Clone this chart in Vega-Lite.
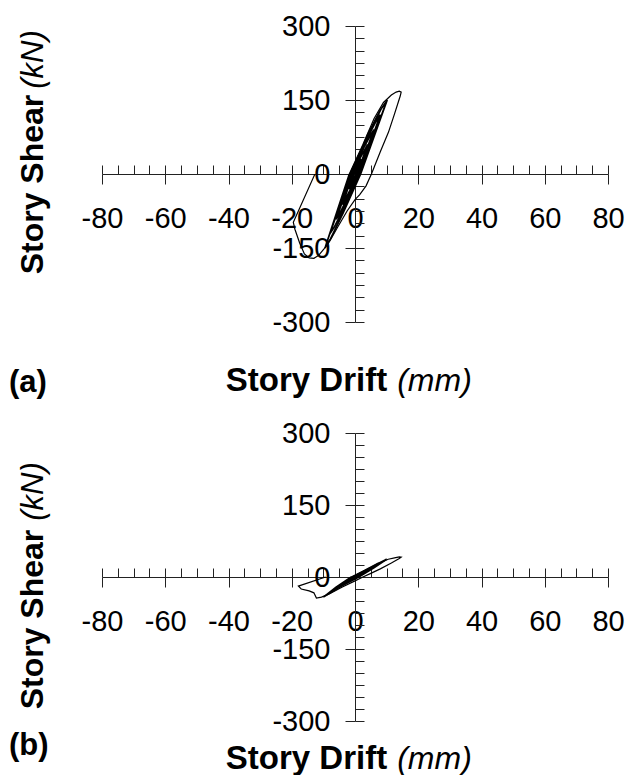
{
"$schema":"https://vega.github.io/schema/vega-lite/v6.json",
"padding":{"left":9,"top":12,"right":0,"bottom":0},
"background":"white",
"bounds":"flush",
"spacing":111,
"config":{"view":{"stroke":null},"font":"Liberation Sans","axis":{"grid":false}},
"datasets":{
"a":[
{"s":"band","t":0,"x":0,"y":0},{"s":"band","t":1,"x":1.0,"y":16},{"s":"band","t":2,"x":2,"y":30},{"s":"band","t":3,"x":1.2,"y":15},{"s":"band","t":4,"x":0.3,"y":0},{"s":"band","t":5,"x":-0.9,"y":-16},{"s":"band","t":6,"x":-2,"y":-30},{"s":"band","t":7,"x":-1.2,"y":-15},{"s":"band","t":8,"x":-0.3,"y":0},
{"s":"band","t":9,"x":1.7,"y":33},{"s":"band","t":10,"x":4,"y":60},{"s":"band","t":11,"x":2.3,"y":30},{"s":"band","t":12,"x":0.6,"y":0},{"s":"band","t":13,"x":-1.7,"y":-34},{"s":"band","t":14,"x":-4,"y":-62},{"s":"band","t":15,"x":-2.3,"y":-31},{"s":"band","t":16,"x":-0.6,"y":0},
{"s":"band","t":17,"x":2.5,"y":50},{"s":"band","t":18,"x":5,"y":80},{"s":"band","t":19,"x":6,"y":90},{"s":"band","t":20,"x":3.4,"y":45},{"s":"band","t":21,"x":0.9,"y":0},{"s":"band","t":22,"x":-2.5,"y":-50},{"s":"band","t":23,"x":-5,"y":-82},{"s":"band","t":24,"x":-6,"y":-92},{"s":"band","t":25,"x":-3.4,"y":-46},{"s":"band","t":26,"x":-0.9,"y":0},
{"s":"band","t":27,"x":3.3,"y":65},{"s":"band","t":28,"x":6.6,"y":106},{"s":"band","t":29,"x":8,"y":120},{"s":"band","t":30,"x":4.6,"y":60},{"s":"band","t":31,"x":1.2,"y":0},{"s":"band","t":32,"x":-3.3,"y":-66},{"s":"band","t":33,"x":-6.6,"y":-108},{"s":"band","t":34,"x":-8,"y":-122},{"s":"band","t":35,"x":-4.6,"y":-61},{"s":"band","t":36,"x":-1.2,"y":0},
{"s":"band","t":37,"x":4.0,"y":80},{"s":"band","t":38,"x":8,"y":130},{"s":"band","t":39,"x":10,"y":148},{"s":"band","t":40,"x":5.8,"y":74},{"s":"band","t":41,"x":1.6,"y":0},{"s":"band","t":42,"x":-4.0,"y":-82},{"s":"band","t":43,"x":-7.8,"y":-132},{"s":"band","t":44,"x":-9.5,"y":-150},{"s":"band","t":45,"x":-5.5,"y":-75},{"s":"band","t":46,"x":-1.6,"y":0},
{"s":"band","t":47,"x":4.2,"y":80},{"s":"band","t":48,"x":8.2,"y":131},{"s":"band","t":49,"x":10.2,"y":150},{"s":"band","t":50,"x":6,"y":75},{"s":"band","t":51,"x":1.8,"y":0},{"s":"band","t":52,"x":-3.8,"y":-80},{"s":"band","t":53,"x":-7.6,"y":-130},{"s":"band","t":54,"x":-9.4,"y":-148},{"s":"band","t":55,"x":-5.6,"y":-74},{"s":"band","t":56,"x":-1.8,"y":0},
{"s":"outer","t":0,"x":-1.8,"y":0},{"s":"outer","t":1,"x":2.5,"y":60},{"s":"outer","t":2,"x":6,"y":112},{"s":"outer","t":3,"x":9,"y":145},{"s":"outer","t":4,"x":11.5,"y":160},{"s":"outer","t":5,"x":13,"y":166},{"s":"outer","t":6,"x":14,"y":168},{"s":"outer","t":7,"x":14.6,"y":166},{"s":"outer","t":8,"x":14.3,"y":158},{"s":"outer","t":9,"x":12.5,"y":122},{"s":"outer","t":10,"x":10.6,"y":85},{"s":"outer","t":11,"x":8,"y":45},{"s":"outer","t":12,"x":5.2,"y":0},{"s":"outer","t":13,"x":3.5,"y":-24},{"s":"outer","t":14,"x":1.5,"y":-42},{"s":"outer","t":15,"x":0,"y":-52},{"s":"outer","t":16,"x":-2.5,"y":-75},{"s":"outer","t":17,"x":-5.5,"y":-108},{"s":"outer","t":18,"x":-8,"y":-136},{"s":"outer","t":19,"x":-9.8,"y":-152},{"s":"outer","t":20,"x":-11.5,"y":-165},{"s":"outer","t":21,"x":-13,"y":-171},{"s":"outer","t":22,"x":-14.5,"y":-170},{"s":"outer","t":23,"x":-16,"y":-162},{"s":"outer","t":24,"x":-17.5,"y":-140},{"s":"outer","t":25,"x":-19,"y":-112},{"s":"outer","t":26,"x":-19.5,"y":-98},{"s":"outer","t":27,"x":-12.8,"y":-2},{"s":"outer","t":28,"x":-12.8,"y":0}
],
"b":[
{"s":"band","t":0,"x":0,"y":0},{"s":"band","t":1,"x":1.2,"y":4.5},{"s":"band","t":2,"x":2.5,"y":9},{"s":"band","t":3,"x":1.5,"y":4.5},{"s":"band","t":4,"x":0.3,"y":0},{"s":"band","t":5,"x":-1.2,"y":-4.5},{"s":"band","t":6,"x":-2.5,"y":-9.5},{"s":"band","t":7,"x":-1.5,"y":-5},{"s":"band","t":8,"x":-0.3,"y":0},
{"s":"band","t":9,"x":2.2,"y":9},{"s":"band","t":10,"x":5,"y":19},{"s":"band","t":11,"x":3,"y":9.5},{"s":"band","t":12,"x":0.6,"y":0},{"s":"band","t":13,"x":-2.4,"y":-10},{"s":"band","t":14,"x":-5,"y":-20},{"s":"band","t":15,"x":-3,"y":-10},{"s":"band","t":16,"x":-0.6,"y":0},
{"s":"band","t":17,"x":3.2,"y":14},{"s":"band","t":18,"x":7.5,"y":29},{"s":"band","t":19,"x":4.5,"y":14},{"s":"band","t":20,"x":0.9,"y":0},{"s":"band","t":21,"x":-3.5,"y":-15},{"s":"band","t":22,"x":-7.5,"y":-31},{"s":"band","t":23,"x":-4.4,"y":-15.5},{"s":"band","t":24,"x":-0.9,"y":0},
{"s":"band","t":25,"x":4.5,"y":19},{"s":"band","t":26,"x":10,"y":37},{"s":"band","t":27,"x":6,"y":19},{"s":"band","t":28,"x":1.2,"y":0},{"s":"band","t":29,"x":-4.5,"y":-20},{"s":"band","t":30,"x":-10,"y":-42},{"s":"band","t":31,"x":-6,"y":-21},{"s":"band","t":32,"x":-1.2,"y":0},
{"s":"outer","t":0,"x":-1.2,"y":0},{"s":"outer","t":1,"x":3,"y":13},{"s":"outer","t":2,"x":7,"y":27},{"s":"outer","t":3,"x":10.5,"y":37},{"s":"outer","t":4,"x":12.5,"y":40},{"s":"outer","t":5,"x":14,"y":42},{"s":"outer","t":6,"x":14.6,"y":41.5},{"s":"outer","t":7,"x":14,"y":38.5},{"s":"outer","t":8,"x":11.5,"y":29},{"s":"outer","t":9,"x":8,"y":17},{"s":"outer","t":10,"x":5,"y":7.5},{"s":"outer","t":11,"x":2.5,"y":0},{"s":"outer","t":12,"x":0,"y":-8},{"s":"outer","t":13,"x":-4,"y":-21},{"s":"outer","t":14,"x":-8,"y":-35},{"s":"outer","t":15,"x":-10.6,"y":-42},{"s":"outer","t":16,"x":-12.2,"y":-44},{"s":"outer","t":17,"x":-13,"y":-33},{"s":"outer","t":18,"x":-14.5,"y":-29},{"s":"outer","t":19,"x":-17,"y":-25},{"s":"outer","t":20,"x":-17.9,"y":-19},{"s":"outer","t":21,"x":-9.3,"y":0}
]
},
"vconcat":[
{
"width":506,"height":296,
"data":{"name":"a"},
"title":{"text":"(a)","orient":"bottom","anchor":"start","frame":"group","dx":-93,"dy":-29,"offset":0,"fontSize":31,"fontWeight":"bold","font":"Liberation Sans","color":"black"},
"resolve":{"axis":{"x":"independent","y":"independent"}},
"layer":[
{"transform":[{"filter":"datum.s === 'band'"}],
"mark":{"type":"line","color":"black","strokeWidth":1.6,"clip":false},
"encoding":{
"x":{"field":"x","type":"quantitative","scale":{"domain":[-80,80],"nice":false,"zero":false},
"axis":{"orient":"bottom","offset":-148,"values":[-80,-60,-40,-20,0,20,40,60,80],"tickSize":10,"tickColor":"#222","domainColor":"#222","labelFont":"Liberation Sans","labelFontSize":29,"labelColor":"black","labelPadding":20,"labelExpr":"'' + datum.value","labelOverlap":false,"labelFlush":false,"title":"Story Drift","titleFont":"Liberation Sans","titleFontSize":33,"titleFontWeight":"bold","titleColor":"black","titleX":204,"titleY":206,"titleBaseline":"middle","titleAlign":"center"}},
"y":{"field":"y","type":"quantitative","scale":{"domain":[-300,300],"nice":false,"zero":false},
"axis":{"orient":"left","offset":-253,"values":[-300,-150,0,150,300],"tickSize":10,"tickColor":"#222","domainColor":"#222","labelFont":"Liberation Sans","labelFontSize":29,"labelColor":"black","labelPadding":15,"labelExpr":"'' + datum.value","labelOverlap":false,"labelFlush":false,"title":"Story Shear","titleFont":"Liberation Sans","titleFontSize":32,"titleFontWeight":"bold","titleColor":"black","titleAngle":-90,"titleX":-313,"titleY":158,"titleBaseline":"alphabetic","titleAlign":"center"}},
"order":{"field":"t","type":"quantitative"}
}},
{"transform":[{"filter":"datum.s === 'outer'"}],
"mark":{"type":"line","color":"black","strokeWidth":1.2,"clip":false},
"encoding":{
"x":{"field":"x","type":"quantitative",
"axis":{"orient":"bottom","offset":-148,"values":[-80,-75,-70,-65,-60,-55,-50,-45,-40,-35,-30,-25,-20,-15,-10,-5,0,5,10,15,20,25,30,35,40,45,50,55,60,65,70,75,80],"tickSize":-9,"tickColor":"#222","domain":false,"labels":false,"title":"(mm)","titleFont":"Liberation Sans","titleFontSize":32,"titleFontWeight":"normal","titleFontStyle":"italic","titleColor":"black","titleX":332,"titleY":206,"titleBaseline":"middle","titleAlign":"center"}},
"y":{"field":"y","type":"quantitative",
"axis":{"orient":"left","offset":-253,"values":[-300,-275,-250,-225,-200,-175,-150,-125,-100,-75,-50,-25,0,25,50,75,100,125,150,175,200,225,250,275,300],"tickSize":-9,"tickColor":"#222","domain":false,"labels":false,"title":"(kN)","titleFont":"Liberation Sans","titleFontSize":31,"titleFontWeight":"normal","titleFontStyle":"italic","titleColor":"black","titleAngle":-90,"titleX":-313,"titleY":33,"titleBaseline":"alphabetic","titleAlign":"center"}},
"order":{"field":"t","type":"quantitative"}
}}
]
},
{
"width":506,"height":288,
"data":{"name":"b"},
"title":{"text":"(b)","orient":"bottom","anchor":"start","frame":"group","dx":-93,"dy":-44,"offset":0,"fontSize":31,"fontWeight":"bold","font":"Liberation Sans","color":"black"},
"resolve":{"axis":{"x":"independent","y":"independent"}},
"layer":[
{"transform":[{"filter":"datum.s === 'band'"}],
"mark":{"type":"line","color":"black","strokeWidth":1.6,"clip":false},
"encoding":{
"x":{"field":"x","type":"quantitative","scale":{"domain":[-80,80],"nice":false,"zero":false},
"axis":{"orient":"bottom","offset":-144,"values":[-80,-60,-40,-20,0,20,40,60,80],"tickSize":10,"tickColor":"#222","domainColor":"#222","labelFont":"Liberation Sans","labelFontSize":29,"labelColor":"black","labelPadding":20,"labelExpr":"'' + datum.value","labelOverlap":false,"labelFlush":false,"title":"Story Drift","titleFont":"Liberation Sans","titleFontSize":33,"titleFontWeight":"bold","titleColor":"black","titleX":204,"titleY":181,"titleBaseline":"middle","titleAlign":"center"}},
"y":{"field":"y","type":"quantitative","scale":{"domain":[-300,300],"nice":false,"zero":false},
"axis":{"orient":"left","offset":-253,"values":[-300,-150,0,150,300],"tickSize":10,"tickColor":"#222","domainColor":"#222","labelFont":"Liberation Sans","labelFontSize":29,"labelColor":"black","labelPadding":15,"labelExpr":"'' + datum.value","labelOverlap":false,"labelFlush":false,"title":"Story Shear","titleFont":"Liberation Sans","titleFontSize":32,"titleFontWeight":"bold","titleColor":"black","titleAngle":-90,"titleX":-313,"titleY":186,"titleBaseline":"alphabetic","titleAlign":"center"}},
"order":{"field":"t","type":"quantitative"}
}},
{"transform":[{"filter":"datum.s === 'outer'"}],
"mark":{"type":"line","color":"black","strokeWidth":1.2,"clip":false},
"encoding":{
"x":{"field":"x","type":"quantitative",
"axis":{"orient":"bottom","offset":-144,"values":[-80,-75,-70,-65,-60,-55,-50,-45,-40,-35,-30,-25,-20,-15,-10,-5,0,5,10,15,20,25,30,35,40,45,50,55,60,65,70,75,80],"tickSize":-9,"tickColor":"#222","domain":false,"labels":false,"title":"(mm)","titleFont":"Liberation Sans","titleFontSize":32,"titleFontWeight":"normal","titleFontStyle":"italic","titleColor":"black","titleX":332,"titleY":181,"titleBaseline":"middle","titleAlign":"center"}},
"y":{"field":"y","type":"quantitative",
"axis":{"orient":"left","offset":-253,"values":[-300,-275,-250,-225,-200,-175,-150,-125,-100,-75,-50,-25,0,25,50,75,100,125,150,175,200,225,250,275,300],"tickSize":-9,"tickColor":"#222","domain":false,"labels":false,"title":"(kN)","titleFont":"Liberation Sans","titleFontSize":31,"titleFontWeight":"normal","titleFontStyle":"italic","titleColor":"black","titleAngle":-90,"titleX":-313,"titleY":58,"titleBaseline":"alphabetic","titleAlign":"center"}},
"order":{"field":"t","type":"quantitative"}
}}
]
}
]
}
